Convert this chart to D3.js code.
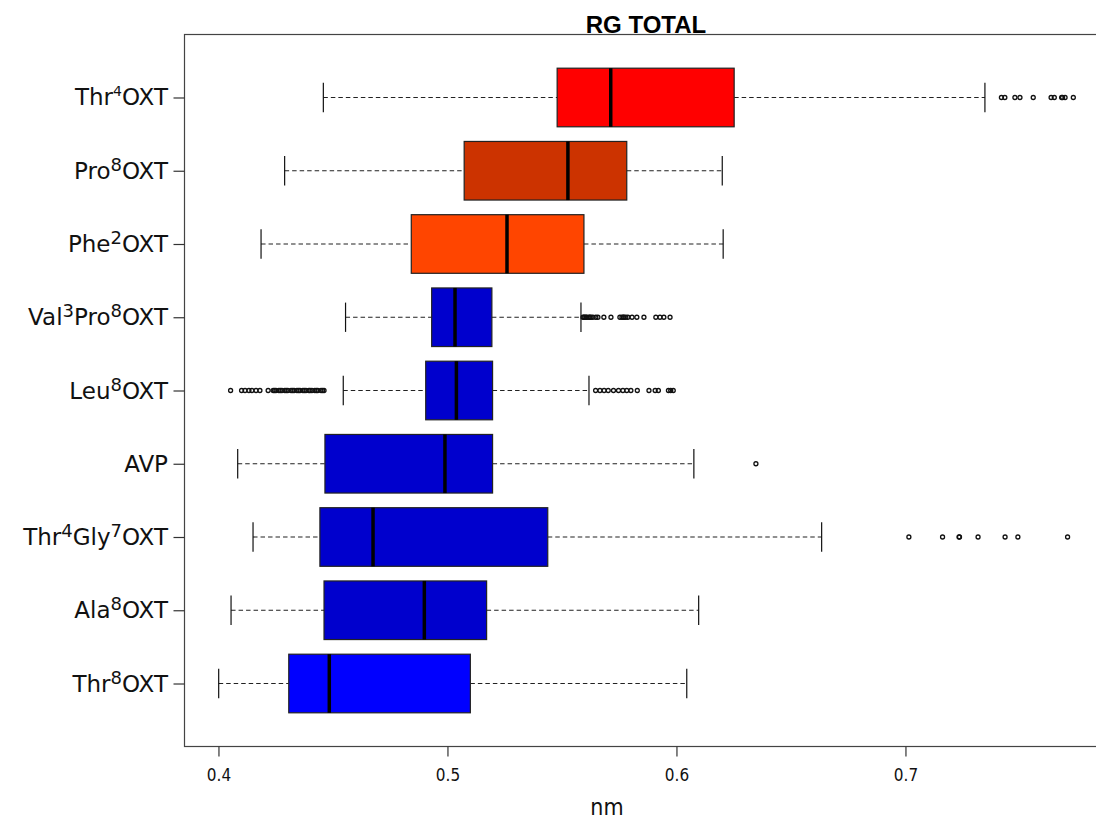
<!DOCTYPE html>
<html>
<head>
<meta charset="utf-8">
<script src="https://cdn.jsdelivr.net/npm/d3@7"></script>
<style>
  body { margin: 0; background: #fff; }
</style>
</head>
<body>
<div id="chart"></div>
<script>
// groups from top to bottom; "^" marks a superscript part
const groups = ["Thr^4^OXT", "Pro^8^OXT", "Phe^2^OXT", "Val^3^Pro^8^OXT", "Leu^8^OXT",
                "AVP", "Thr^4^Gly^7^OXT", "Ala^8^OXT", "Thr^8^OXT"];
const boxColors = ["#FF0000", "#CC3300", "#FF4500", "#0000CD", "#0000CD",
                   "#0000CD", "#0000CD", "#0000CD", "#0000FF"];

const lowWhisker  = [0.4458, 0.4289, 0.4186, 0.4555, 0.4545, 0.4084, 0.4151, 0.4055, 0.4001];
const q1          = [0.5479, 0.5073, 0.4842, 0.4931, 0.4905, 0.4465, 0.4443, 0.4461, 0.4307];
const median      = [0.5713, 0.5526, 0.5260, 0.5033, 0.5039, 0.4989, 0.4675, 0.4899, 0.4484];
const q3          = [0.6252, 0.5783, 0.5596, 0.5194, 0.5197, 0.5197, 0.5438, 0.5171, 0.5100];
const highWhisker = [0.7347, 0.6200, 0.6204, 0.5583, 0.5618, 0.6076, 0.6634, 0.6097, 0.6045];

const outliers = [
  [0.7419, 0.7434, 0.7478, 0.7500, 0.7558, 0.7636, 0.7650, 0.7682, 0.7686, 0.7697, 0.7733],
  [],
  [],
  [0.5592, 0.5596, 0.5600, 0.5605, 0.5609, 0.5618, 0.5622, 0.5627, 0.5635, 0.5648, 0.5657,
   0.5683, 0.5714, 0.5753, 0.5762, 0.5768, 0.5771, 0.5779, 0.5788, 0.5806, 0.5827,
   0.5858, 0.5910, 0.5928, 0.5945, 0.5972],
  [0.4053, 0.4101, 0.4116, 0.4133, 0.4146, 0.4164, 0.4181, 0.4217, 0.4239, 0.4245, 0.4251,
   0.4264, 0.4270, 0.4277, 0.4290, 0.4296, 0.4303, 0.4317, 0.4324, 0.4330, 0.4343, 0.4350,
   0.4356, 0.4369, 0.4375, 0.4382, 0.4395, 0.4400, 0.4408, 0.4421, 0.4428, 0.4434, 0.4448,
   0.4455, 0.4461,
   0.5647, 0.5666, 0.5684, 0.5702, 0.5725, 0.5747, 0.5766, 0.5783, 0.5801, 0.5829,
   0.5880, 0.5907, 0.5921, 0.5965, 0.5975, 0.5986],
  [0.6347],
  [0.7015, 0.7162, 0.7234, 0.7236, 0.7317, 0.7435, 0.7491, 0.7708],
  [],
  []
];

const xTicks = [0.4, 0.5, 0.6, 0.7];
const chartTitle = "RG TOTAL";
const xLabel = "nm";

const width = 1096, height = 821;
const plot = { left: 184.5, right: 1107.5, top: 34.5, bottom: 746.5 };

const svg = d3.select("#chart").append("svg")
  .attr("width", width)
  .attr("height", height);

// R style range: data extent padded by 4% on each side
const allValues = d3.merge([lowWhisker, highWhisker, d3.merge(outliers)]);
const ext = d3.extent(allValues);
const pad = (ext[1] - ext[0]) * 0.04;

const x = d3.scaleLinear()
  .domain([ext[0] - pad, ext[1] + pad])
  .range([plot.left, plot.right]);

const n = groups.length;
const y = d3.scaleLinear()
  .domain([0.5 - n * 0.04, n + 0.5 + n * 0.04])
  .range([plot.bottom, plot.top]);

// group i (top first) sits at position n - i
const pos = i => n - i;
const boxHalf = 0.4, capHalf = 0.2;

const g = svg.append("g");

groups.forEach((name, i) => {
  const yc = y(pos(i));
  const row = g.append("g").attr("class", "row");

  // whiskers
  row.selectAll("line.whisker")
    .data([[lowWhisker[i], q1[i]], [q3[i], highWhisker[i]]])
    .join("line")
    .attr("class", "whisker")
    .attr("x1", d => x(d[0]))
    .attr("x2", d => x(d[1]))
    .attr("y1", yc).attr("y2", yc)
    .attr("stroke", "#222")
    .attr("stroke-width", 1.1)
    .attr("stroke-dasharray", "4.5,3");

  // caps
  row.selectAll("line.cap")
    .data([lowWhisker[i], highWhisker[i]])
    .join("line")
    .attr("class", "cap")
    .attr("x1", d => x(d)).attr("x2", d => x(d))
    .attr("y1", y(pos(i) + capHalf))
    .attr("y2", y(pos(i) - capHalf))
    .attr("stroke", "#111")
    .attr("stroke-width", 1.2);

  // box
  row.append("rect")
    .attr("x", x(q1[i]))
    .attr("y", y(pos(i) + boxHalf))
    .attr("width", x(q3[i]) - x(q1[i]))
    .attr("height", y(pos(i) - boxHalf) - y(pos(i) + boxHalf))
    .attr("fill", boxColors[i])
    .attr("stroke", "#222")
    .attr("stroke-width", 1.2);

  // median
  row.append("line")
    .attr("x1", x(median[i])).attr("x2", x(median[i]))
    .attr("y1", y(pos(i) + boxHalf))
    .attr("y2", y(pos(i) - boxHalf))
    .attr("stroke", "#000")
    .attr("stroke-width", 3.5);

  // outliers
  row.selectAll("circle")
    .data(outliers[i])
    .join("circle")
    .attr("cx", d => x(d))
    .attr("cy", yc)
    .attr("r", 2)
    .attr("fill", "none")
    .attr("stroke", "#111")
    .attr("stroke-width", 1.3);
});

// frame
svg.append("rect")
  .attr("x", plot.left)
  .attr("y", plot.top)
  .attr("width", plot.right - plot.left)
  .attr("height", plot.bottom - plot.top)
  .attr("fill", "none")
  .attr("stroke", "#444")
  .attr("stroke-width", 1.2);

// x axis
const xAxis = svg.append("g")
  .attr("transform", `translate(0,${plot.bottom})`)
  .call(d3.axisBottom(x).tickValues(xTicks).tickSize(10).tickPadding(12)
    .tickFormat(d3.format(".1f")));
xAxis.select(".domain").remove();
xAxis.selectAll(".tick line").attr("stroke", "#333").attr("stroke-width", 1.2);
xAxis.selectAll(".tick text")
  .attr("font-family", "'Liberation Sans Narrow', 'Arial Narrow', 'DejaVu Sans Condensed', sans-serif")
  .attr("font-size", 17)
  .attr("fill", "#111");

// y axis with superscript labels
const yAxis = svg.append("g")
  .attr("transform", `translate(${plot.left},0)`)
  .call(d3.axisLeft(y).tickValues(d3.range(1, n + 1)).tickSize(11).tickFormat(""));
yAxis.select(".domain").remove();
yAxis.selectAll(".tick line").attr("stroke", "#333").attr("stroke-width", 1.2);

groups.forEach((name, i) => {
  const parts = name.split("^");
  const supSize = i === 0 ? 14 : 18;
  const supRise = i === 0 ? 9 : 8;
  const t = svg.append("text")
    .attr("x", 168)
    .attr("y", y(pos(i)) + 8)
    .attr("text-anchor", "end")
    .attr("font-family", "'DejaVu Sans', sans-serif")
    .attr("font-size", 23)
    .attr("fill", "#111");
  let raised = false;
  parts.forEach((p, k) => {
    if (p === "") return;
    const sup = k % 2 === 1;
    const ts = t.append("tspan").text(p);
    if (sup) {
      ts.attr("font-size", supSize).attr("dy", -supRise);
      raised = true;
    } else if (raised) {
      ts.attr("dy", supRise);
      raised = false;
    }
  });
});

// title
svg.append("text")
  .attr("x", (plot.left + plot.right) / 2)
  .attr("y", 33)
  .attr("text-anchor", "middle")
  .attr("font-family", "'Liberation Sans', Arial, sans-serif")
  .attr("font-weight", "bold")
  .attr("font-size", 24)
  .attr("fill", "#000")
  .text(chartTitle);

// x label
svg.append("text")
  .attr("x", (plot.left + plot.right) / 2 - 39)
  .attr("y", 815)
  .attr("text-anchor", "middle")
  .attr("font-family", "'Liberation Sans Narrow', 'Arial Narrow', 'DejaVu Sans Condensed', sans-serif")
  .attr("font-size", 23)
  .attr("fill", "#111")
  .text(xLabel);
</script>
</body>
</html>
